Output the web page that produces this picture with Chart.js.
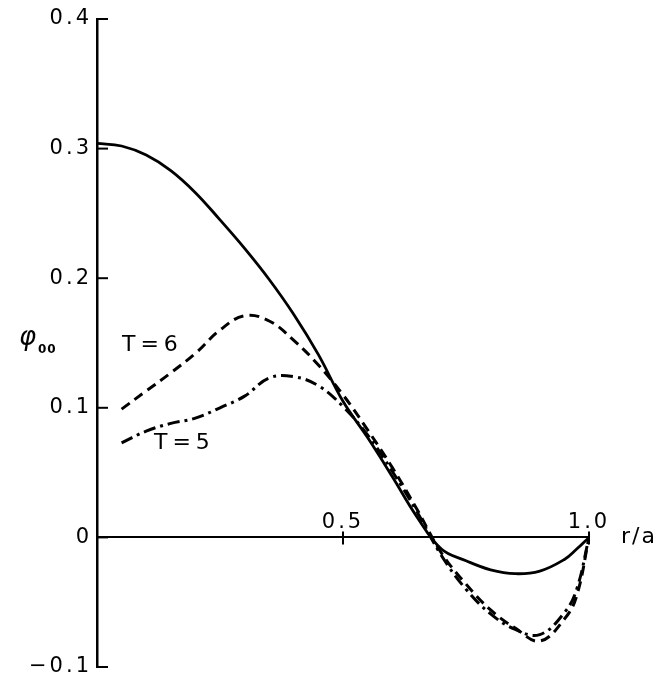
<!DOCTYPE html>
<html>
<head>
<meta charset="utf-8">
<script src="https://cdn.jsdelivr.net/npm/chart.js@4"></script>
<style>
  body { margin: 0; background: #fff; }
  canvas { display: block; }
</style>
</head>
<body>
<canvas id="phi-chart" width="662" height="679"></canvas>
<script>
// r/a positions
const rA = [0, 0.05, 0.1, 0.15, 0.2, 0.25, 0.3, 0.35, 0.4, 0.45, 0.5,
            0.55, 0.6, 0.65, 0.7, 0.75, 0.8, 0.85, 0.9, 0.95, 0.975, 1.0];
// solid curve
const phiSolid = [0.304, 0.302, 0.295, 0.283, 0.266, 0.245, 0.223, 0.199, 0.172, 0.141, 0.105,
                  0.077, 0.047, 0.016, -0.009, -0.018, -0.025, -0.028, -0.026, -0.017, -0.009, 0];
// T=6 (dashed)
const phiT6 = [null, 0.099, 0.113, 0.127, 0.142, 0.160, 0.171, 0.167, 0.152, 0.133, 0.110,
               0.083, 0.054, 0.022, -0.012, -0.036, -0.056, -0.070, -0.080, -0.063, -0.045, 0];
// T=5 (dash-dot)
const phiT5 = [null, 0.073, 0.082, 0.088, 0.092, 0.100, 0.109, 0.123, 0.124, 0.117, 0.101,
               0.079, 0.051, 0.020, -0.014, -0.040, -0.059, -0.071, -0.075, -0.058, -0.040, 0];
const yTicks = [-0.1, 0, 0.1, 0.2, 0.3, 0.4];
const xTicks = [0.5, 1.0];

const FONT = "DejaVu Sans";

function pts(ys) {
  return rA.map((r, i) => ({x: r, y: ys[i]}));
}

const decor = {
  id: "decor",
  beforeDraw(chart) {
    chart.ctx.letterSpacing = "3px";
  },
  afterDraw(chart) {
    const ctx = chart.ctx;
    const xs = chart.scales.x, ys = chart.scales.y;
    const x0 = xs.getPixelForValue(0);
    const y0 = ys.getPixelForValue(0);
    ctx.save();
    ctx.strokeStyle = "#000";
    ctx.lineWidth = 2;
    // y ticks pointing inwards
    yTicks.forEach(v => {
      const py = ys.getPixelForValue(v);
      ctx.beginPath();
      ctx.moveTo(x0, py);
      ctx.lineTo(x0 + 11, py);
      ctx.stroke();
    });
    // x ticks across the zero line
    xTicks.forEach(v => {
      const px = xs.getPixelForValue(v);
      ctx.beginPath();
      ctx.moveTo(px, y0 - 6);
      ctx.lineTo(px, y0 + 7);
      ctx.stroke();
    });
    ctx.fillStyle = "#000";
    ctx.textBaseline = "middle";
    ctx.textAlign = "left";
    ctx.letterSpacing = "5px";
    ctx.font = "22px " + FONT;
    ctx.fillText("T=6", 122, 345);
    ctx.fillText("T=5", 154, 443);
    ctx.letterSpacing = "2px";
    ctx.fillText("r/a", 621, 537);
    ctx.letterSpacing = "0px";
    ctx.font = "italic 26px " + FONT;
    ctx.fillText("φ", 19, 338);
    ctx.font = "bold 12px " + FONT;
    ctx.letterSpacing = "1px";
    ctx.fillText("00", 38, 350);
    ctx.restore();
  }
};

new Chart(document.getElementById("phi-chart"), {
  type: "line",
  data: {
    datasets: [{
        label: "solid",
        data: pts(phiSolid),
        borderColor: "#000",
        borderWidth: 2.8,
        pointRadius: 0,
        tension: 0.4,
        fill: false
      }, {
        label: "T=6",
        data: pts(phiT6),
        borderColor: "#000",
        borderWidth: 3,
        borderDash: [10, 6],
        pointRadius: 0,
        tension: 0.4,
        fill: false
      }, {
        label: "T=5",
        data: pts(phiT5),
        borderColor: "#000",
        borderWidth: 3,
        borderDash: [12, 5, 3, 5],
        pointRadius: 0,
        tension: 0.4,
        fill: false
      }
    ]
  },
  options: {
    responsive: false,
    animation: false,
    layout: { padding: { left: 0, right: 73, top: 19, bottom: 12 } },
    plugins: {
      legend: { display: false },
      tooltip: { enabled: false }
    },
    scales: {
      x: {
        type: "linear",
        position: { y: 0 },
        min: 0,
        max: 1,
        afterBuildTicks: s => { s.ticks = xTicks.map(v => ({value: v})); },
        afterFit: s => { s.paddingLeft = 0; s.paddingRight = 0; s.paddingTop = 0; s.paddingBottom = 0; },
        grid: { display: false, drawTicks: false, lineWidth: 1 },
        border: { display: true, color: "#000", width: 2 },
        ticks: {
          color: "#000",
          font: { family: FONT, size: 21 },
          padding: -27,
          maxRotation: 0,
          callback: v => v.toFixed(1)
        }
      },
      y: {
        min: -0.1,
        max: 0.4,
        afterBuildTicks: s => { s.ticks = yTicks.map(v => ({value: v})); },
        afterFit: s => { s.width = 97; s.paddingTop = 0; s.paddingBottom = 0; },
        grid: { display: false, drawTicks: false },
        border: { display: true, color: "#000", width: 2.5 },
        ticks: {
          color: "#000",
          font: { family: FONT, size: 21 },
          padding: 5,
          callback: v => v === 0 ? "0" : (v < 0 ? "\u2212" + Math.abs(v).toFixed(1) : v.toFixed(1))
        }
      }
    }
  },
  plugins: [decor]
});
</script>
</body>
</html>
